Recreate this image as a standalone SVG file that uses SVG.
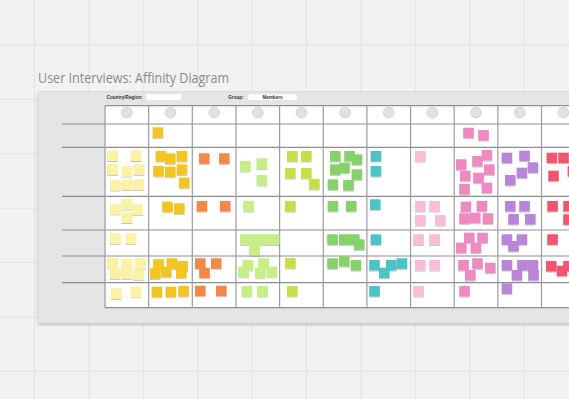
<svg xmlns="http://www.w3.org/2000/svg" width="569" height="399" viewBox="0 0 569 399">
<defs>
<style>
.grid{stroke:#e3e3e3;stroke-width:1;fill:none}
.hl{stroke:#8e8e8e;stroke-width:1.2}
.vl{stroke:#9c9c9c;stroke-width:1.2}
.av{fill:#e2e2e2;stroke:#c4c4c4;stroke-width:0.7}
.lbl{font-family:"Liberation Sans",Arial,sans-serif;font-size:4.6px;font-weight:bold;fill:#333}
.n{width:10.5px;height:10.5px}
.c1 rect{fill:#fbf3a3}
.c2 rect{fill:#f3c520}
.c3 rect{fill:#f3884a}
.c4 rect{fill:#c8ee86}
.c5 rect{fill:#c4df48}
.c6 rect{fill:#86d26a}
.c7 rect{fill:#4cc4c3}
.c8 rect{fill:#f9bdd6}
.c9 rect{fill:#ef89c1}
.c10 rect{fill:#b985d8}
.c11 rect{fill:#f0566f}
</style>
<filter id="sh" x="-20%" y="-20%" width="140%" height="150%">
<feDropShadow dx="0" dy="0.8" stdDeviation="0.6" flood-color="#000" flood-opacity="0.3"/>
</filter>
<filter id="bsh" x="-5%" y="-5%" width="110%" height="112%">
<feDropShadow dx="0" dy="1.5" stdDeviation="1.2" flood-color="#000" flood-opacity="0.25"/>
</filter>
</defs>
<rect width="569" height="399" fill="#f2f2f2"/>
<g id="bggrid" class="grid">
<path d="M34.5 0V399M88.9 0V399M143.3 0V399M197.7 0V399M252.1 0V399M306.5 0V399M360.9 0V399M415.3 0V399M469.7 0V399M524.1 0V399"/>
<path d="M0 45H569M0 99.4H569M0 153.8H569M0 208.2H569M0 262.6H569M0 317H569M0 371.4H569"/>
</g>
<text id="title" x="38" y="82.5" font-family="'Open Sans','Liberation Sans',sans-serif" font-size="14" fill="#8a8a8a" textLength="191" lengthAdjust="spacingAndGlyphs">User Interviews: Affinity Diagram</text>
<g id="board">
<rect x="38" y="91.5" width="545" height="231.5" fill="#e5e5e5" stroke="#d2d2d2" stroke-width="0.6" filter="url(#bsh)"/>
<text class="lbl" x="106.7" y="99">Country/Region:</text>
<rect x="146.7" y="94.3" width="34.3" height="5.7" fill="#fff"/>
<text class="lbl" x="228.3" y="99">Group:</text>
<rect x="248.3" y="94.3" width="48.4" height="5.7" fill="#fff"/>
<text class="lbl" x="272.5" y="98.8" text-anchor="middle" font-size="4">Members</text>
</g>
<g id="table">
<rect x="105" y="105.7" width="470" height="202" fill="#fff"/>
<g class="hl">
<path d="M105 105.7H569"/>
<path d="M62 124H569M62 147.3H569M62 196.3H569M62 230H569M62 256H569M62 282.7H569M105 307.7H569"/>
</g>
<g class="vl">
<path d="M105 105.7V307.7M148.65 105.7V307.7M192.3 105.7V307.7M235.95 105.7V307.7M279.6 105.7V307.7M323.25 105.7V307.7M366.9 105.7V307.7M410.55 105.7V307.7M454.2 105.7V307.7M497.85 105.7V307.7M541.5 105.7V307.7"/>
</g>
<g id="avatars" class="av">
<circle cx="126.8" cy="112.6" r="5.3"/>
<circle cx="170.5" cy="112.6" r="5.3"/>
<circle cx="214.1" cy="112.6" r="5.3"/>
<circle cx="257.8" cy="112.6" r="5.3"/>
<circle cx="301.4" cy="112.6" r="5.3"/>
<circle cx="345.1" cy="112.6" r="5.3"/>
<circle cx="388.7" cy="112.6" r="5.3"/>
<circle cx="432.4" cy="112.6" r="5.3"/>
<circle cx="476" cy="112.6" r="5.3"/>
<circle cx="519.7" cy="112.6" r="5.3"/>
<circle cx="563.3" cy="112.6" r="5.3"/>
</g>
</g>
<g id="col1" class="c1" filter="url(#sh)">
<rect class="n" x="107.3" y="150.5"/><rect class="n" x="130.7" y="150.5"/><rect class="n" x="107.3" y="164.3"/><rect class="n" x="121.7" y="166"/><rect class="n" x="133.8" y="164.3"/><rect class="n" x="110" y="180"/><rect class="n" x="121.7" y="179.3"/><rect class="n" x="133.3" y="179.3"/>
<rect class="n" x="110" y="203.8"/><rect class="n" x="121.7" y="199"/><rect class="n" x="132.5" y="204.3"/><rect class="n" x="121.7" y="212.5"/>
<rect class="n" x="110" y="233.3"/><rect class="n" x="125.7" y="233.3"/>
<rect class="n" x="107.3" y="257.7"/><rect class="n" x="121.7" y="259.3"/><rect class="n" x="135" y="258.3"/><rect class="n" x="110" y="268.3"/><rect class="n" x="121.7" y="268.3"/><rect class="n" x="133.3" y="269.3"/>
<rect class="n" x="111" y="288.3"/><rect class="n" x="130.7" y="286.7"/>
</g>
<g id="col2" class="c2" filter="url(#sh)">
<rect class="n" x="152.7" y="127.3"/>
<rect class="n" x="155.7" y="151"/><rect class="n" x="165" y="153.3"/><rect class="n" x="176.7" y="151"/><rect class="n" x="153.3" y="166"/><rect class="n" x="165" y="166.7"/><rect class="n" x="176.7" y="164.3"/><rect class="n" x="179" y="177.7"/>
<rect class="n" x="162.3" y="201.7"/><rect class="n" x="174" y="203.3"/>
<rect class="n" x="153.3" y="259.3"/><rect class="n" x="166.7" y="258.3"/><rect class="n" x="177.3" y="261"/><rect class="n" x="150" y="268.3"/><rect class="n" x="161" y="266.7"/><rect class="n" x="176" y="267.7"/>
<rect class="n" x="151.7" y="286.7"/><rect class="n" x="165.7" y="286.7"/><rect class="n" x="178.3" y="286"/>
</g>
<g id="col3" class="c3" filter="url(#sh)">
<rect class="n" x="199" y="153.3"/><rect class="n" x="219" y="153.3"/>
<rect class="n" x="196.7" y="201"/><rect class="n" x="220" y="201"/>
<rect class="n" x="195" y="258.3"/><rect class="n" x="211" y="258.3"/><rect class="n" x="199.3" y="267.7"/>
<rect class="n" x="195" y="285.7"/><rect class="n" x="216" y="285.7"/>
</g>
<g id="col4" class="c4" filter="url(#sh)">
<rect class="n" x="240" y="161"/><rect class="n" x="256.7" y="158.3"/><rect class="n" x="256.7" y="175"/>
<rect class="n" x="243.3" y="201"/>
<rect class="n" x="240" y="234.3"/><rect class="n" x="250" y="234.3"/><rect class="n" x="260" y="234.3"/><rect class="n" x="269" y="234.3"/><rect class="n" x="249.3" y="245"/>
<rect class="n" x="242.7" y="260"/><rect class="n" x="258.3" y="258.3"/><rect class="n" x="238.3" y="266.7"/><rect class="n" x="255" y="267.7"/><rect class="n" x="266.7" y="266.7"/>
<rect class="n" x="241.7" y="286"/><rect class="n" x="257.3" y="286"/>
</g>
<g id="col5" class="c5" filter="url(#sh)">
<rect class="n" x="287" y="151"/><rect class="n" x="301" y="151"/><rect class="n" x="285" y="168"/><rect class="n" x="301" y="168"/><rect class="n" x="309" y="179"/>
<rect class="n" x="285" y="201"/>
<rect class="n" x="285" y="258"/>
<rect class="n" x="287" y="286"/>
</g>
<g id="col6" class="c6" filter="url(#sh)">
<rect class="n" x="330" y="151"/><rect class="n" x="344.3" y="151"/><rect class="n" x="351.7" y="154.3"/><rect class="n" x="330" y="164.3"/><rect class="n" x="339.3" y="162.7"/><rect class="n" x="351.7" y="169.3"/><rect class="n" x="327.7" y="179.3"/><rect class="n" x="343.3" y="180"/>
<rect class="n" x="327.7" y="201"/><rect class="n" x="346" y="201"/>
<rect class="n" x="327.3" y="234.3"/><rect class="n" x="339" y="234.3"/><rect class="n" x="349" y="234.3"/><rect class="n" x="354" y="239.3"/>
<rect class="n" x="327.3" y="258.3"/><rect class="n" x="339" y="256"/><rect class="n" x="350.7" y="260"/>
</g>
<g id="col7" class="c7" filter="url(#sh)">
<rect class="n" x="370.7" y="151"/><rect class="n" x="370.7" y="166"/>
<rect class="n" x="370" y="199.3"/>
<rect class="n" x="370.7" y="234.3"/>
<rect class="n" x="369.3" y="260"/><rect class="n" x="386" y="260"/><rect class="n" x="396.7" y="258.3"/><rect class="n" x="379" y="267.7"/>
<rect class="n" x="369.3" y="286"/>
</g>
<g id="col8" class="c8" filter="url(#sh)">
<rect class="n" x="415" y="151"/>
<rect class="n" x="415" y="201"/><rect class="n" x="429.3" y="201"/><rect class="n" x="415" y="215"/><rect class="n" x="435" y="215"/>
<rect class="n" x="413.3" y="234.3"/><rect class="n" x="429.3" y="234.3"/>
<rect class="n" x="415" y="260"/><rect class="n" x="429.3" y="260"/>
<rect class="n" x="413.3" y="286"/>
</g>
<g id="col9" class="c9" filter="url(#sh)">
<rect class="n" x="463.3" y="127.7"/><rect class="n" x="478.3" y="130"/>
<rect class="n" x="456" y="159.3"/><rect class="n" x="472.3" y="156"/><rect class="n" x="481.7" y="150"/><rect class="n" x="484" y="164.3"/><rect class="n" x="460" y="170.7"/><rect class="n" x="473.3" y="172.7"/><rect class="n" x="481.7" y="182.7"/><rect class="n" x="459.3" y="184"/>
<rect class="n" x="460.7" y="201.7"/><rect class="n" x="476.7" y="201"/><rect class="n" x="459.3" y="213.3"/><rect class="n" x="470" y="212.7"/><rect class="n" x="482.7" y="213.3"/>
<rect class="n" x="464" y="232.7"/><rect class="n" x="477.3" y="232.7"/><rect class="n" x="456" y="242.7"/><rect class="n" x="470.7" y="242.7"/>
<rect class="n" x="458.3" y="260"/><rect class="n" x="472.3" y="258.3"/><rect class="n" x="485" y="262.7"/><rect class="n" x="465" y="270"/>
<rect class="n" x="459.3" y="286"/>
</g>
<g id="col10" class="c10" filter="url(#sh)">
<rect class="n" x="501.7" y="152.7"/><rect class="n" x="519.3" y="150.7"/><rect class="n" x="527.7" y="162.3"/><rect class="n" x="516.7" y="167.7"/><rect class="n" x="505" y="175"/>
<rect class="n" x="505" y="201"/><rect class="n" x="519.3" y="201"/><rect class="n" x="508.3" y="214"/><rect class="n" x="525" y="214"/>
<rect class="n" x="501.7" y="234.3"/><rect class="n" x="516.7" y="234.3"/><rect class="n" x="508.3" y="241"/>
<rect class="n" x="501.7" y="260"/><rect class="n" x="517.3" y="260"/><rect class="n" x="527.7" y="260"/><rect class="n" x="511.7" y="270"/><rect class="n" x="528.3" y="270"/>
<rect class="n" x="501.7" y="283.3"/>
</g>
<g id="col11" class="c11" filter="url(#sh)">
<rect class="n" x="546.7" y="152.7"/><rect class="n" x="558.3" y="152.7"/><rect class="n" x="548.3" y="170.7"/><rect class="n" x="567.7" y="166"/>
<rect class="n" x="547.3" y="201"/><rect class="n" x="563.3" y="201"/><rect class="n" x="563.3" y="214.3"/>
<rect class="n" x="547.3" y="234.3"/>
<rect class="n" x="546" y="261"/><rect class="n" x="556.7" y="265.7"/><rect class="n" x="563.3" y="261"/>
</g>
</svg>
